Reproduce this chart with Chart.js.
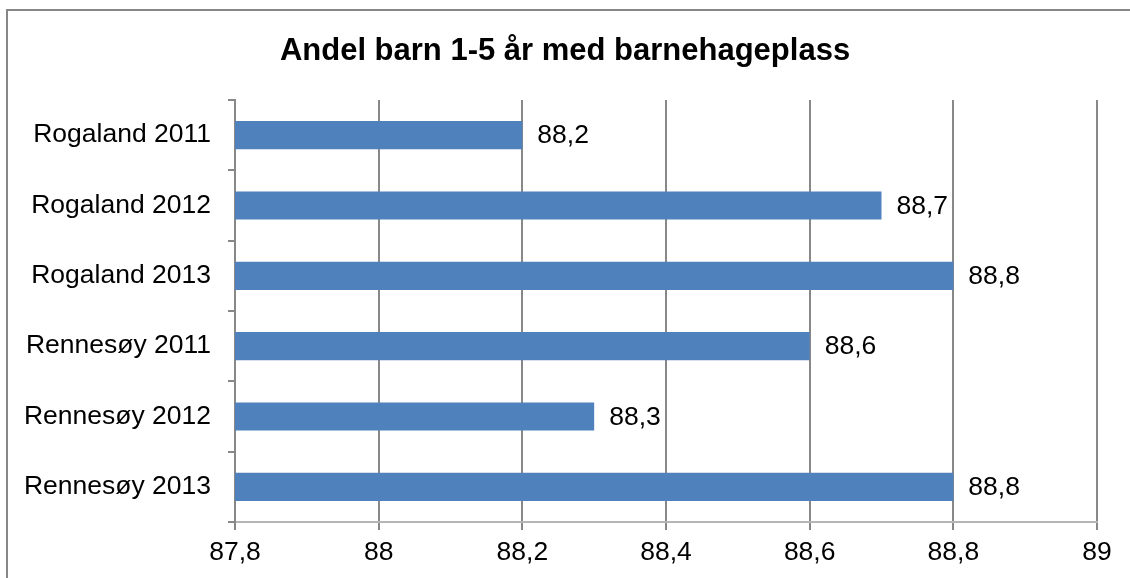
<!DOCTYPE html>
<html>
<head>
<meta charset="utf-8">
<script src="https://cdn.jsdelivr.net/npm/chart.js@4"></script>
<style>
  body { margin: 0; background: #fff; }
  canvas { display: block; }
</style>
</head>
<body>
<canvas id="chart" width="1130" height="578"></canvas>
<script>
// Data
const categories = ['Rogaland 2011', 'Rogaland 2012', 'Rogaland 2013', 'Rennesøy 2011', 'Rennesøy 2012', 'Rennesøy 2013'];
const values = [88.2, 88.7, 88.8, 88.6, 88.3, 88.8];
const titleText = 'Andel barn 1-5 år med barnehageplass';

const FONT = '"Liberation Sans", Arial, sans-serif';

function fmt(v) {
    return String(Math.round(v * 10) / 10).replace('.', ',');
}

// Frame, title and value labels
const decorations = {
    id: 'decorations',
    beforeDraw(chart) {
        const ctx = chart.ctx;
        ctx.save();
        ctx.fillStyle = '#fff';
        ctx.fillRect(0, 0, chart.width, chart.height);
        ctx.restore();
    },
    afterDatasetsDraw(chart) {
        const ctx = chart.ctx;
        ctx.save();
        ctx.font = '26.5px ' + FONT;
        ctx.fillStyle = '#000';
        ctx.textAlign = 'left';
        ctx.textBaseline = 'middle';
        chart.getDatasetMeta(0).data.forEach((bar, i) => {
            ctx.fillText(fmt(values[i]), bar.x + 15, bar.y + 1);
        });
        ctx.restore();
    },
    afterDraw(chart) {
        const ctx = chart.ctx;
        ctx.save();
        ctx.strokeStyle = '#878787';
        ctx.lineWidth = 2;
        ctx.strokeRect(7, 10, 2000, 2000);
        ctx.font = 'bold 31px ' + FONT;
        ctx.fillStyle = '#000';
        ctx.textAlign = 'center';
        ctx.textBaseline = 'middle';
        ctx.fillText(titleText, 565, 51);
        ctx.restore();
    }
};

const ctx = document.getElementById('chart').getContext('2d');
new Chart(ctx, {
    type: 'bar',
    data: {
        labels: categories,
        datasets: [{
            data: values,
            backgroundColor: '#4f81bd',
            borderWidth: 0,
            barPercentage: 0.4,
            categoryPercentage: 1
        }]
    },
    options: {
        indexAxis: 'y',
        responsive: false,
        animation: false,
        layout: { padding: { top: 100, right: 33, left: 0, bottom: 0 } },
        plugins: {
            legend: { display: false },
            tooltip: { enabled: false },
            title: { display: false }
        },
        scales: {
            x: {
                min: 87.8,
                max: 89,
                afterFit: s => { s.height = 56; },
                ticks: {
                    stepSize: 0.2,
                    color: '#000',
                    font: { family: FONT, size: 26.5 },
                    padding: 7,
                    maxRotation: 0,
                    callback: v => fmt(v)
                },
                grid: {
                    color: '#888',
                    lineWidth: 2,
                    tickLength: 8
                },
                border: { color: '#b5b5b5', width: 2 }
            },
            y: {
                afterFit: s => { s.width = 235; },
                ticks: {
                    color: '#000',
                    font: { family: FONT, size: 26.5 },
                    padding: 17
                },
                grid: {
                    offset: true,
                    drawOnChartArea: false,
                    color: '#888',
                    lineWidth: 2,
                    tickLength: 7
                },
                border: { color: '#888', width: 2 }
            }
        }
    },
    plugins: [decorations]
});
</script>
</body>
</html>
